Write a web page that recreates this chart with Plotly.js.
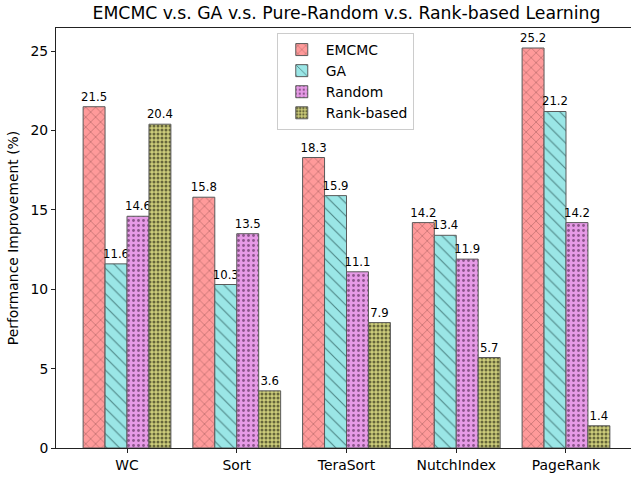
<!DOCTYPE html>
<html>
<head>
<meta charset="utf-8">
<script src="https://cdn.plot.ly/plotly-3.0.1.min.js"></script>
<style>
html,body{margin:0;padding:0;overflow:hidden;background:#fff;}
#chart{width:640px;height:477px;}
</style>
</head>
<body>
<div id="chart"></div>
<script>
const categories = ["WC", "Sort", "TeraSort", "NutchIndex", "PageRank"];
const emcmc = [21.5, 15.8, 18.3, 14.2, 25.2];
const ga = [11.6, 10.3, 15.9, 13.4, 21.2];
const random = [14.6, 13.5, 11.1, 11.9, 14.2];
const rankBased = [20.4, 3.6, 7.9, 5.7, 1.4];
const seriesNames = ["EMCMC", "GA", "Random", "Rank-based"];
const yTicks = [0, 5, 10, 15, 20, 25];

const styles = [
  {bg: "#ff9a9a", fg: "#a65f5f", shape: "x", size: 7, solidity: 0.15},
  {bg: "#9ae6e6", fg: "#4d8585", shape: "\\", size: 9, solidity: 0.12},
  {bg: "#e69ae6", fg: "#8a558a", shape: ".", size: 5, solidity: 0.25},
  {bg: "#cccc7a", fg: "#66663a", shape: ".", size: 4, solidity: 0.45}
];
const allValues = [emcmc, ga, random, rankBased];

const font = "DejaVu Sans";
const traces = allValues.map((vals, i) => ({
  type: "bar",
  name: seriesNames[i],
  x: categories,
  y: vals,
  text: vals.map(v => v.toFixed(1)),
  textposition: "outside",
  constraintext: "none",
  cliponaxis: false,
  textfont: {family: font, size: 11.7, color: "#000"},
  marker: {
    color: styles[i].bg,
    line: {color: "#5a5a5a", width: 1},
    pattern: {shape: styles[i].shape, bgcolor: styles[i].bg, fgcolor: styles[i].fg,
              size: styles[i].size, solidity: styles[i].solidity, fillmode: "replace"}
  }
}));

const layout = {
  width: 640, height: 477,
  margin: {l: 56, r: 3, t: 28, b: 29},
  paper_bgcolor: "#fff", plot_bgcolor: "#fff",
  font: {family: font, color: "#000"},
  barmode: "group", bargap: 0.2, bargroupgap: 0,
  title: {text: "EMCMC v.s. GA v.s. Pure-Random v.s. Rank-based Learning",
          font: {family: font, size: 17.3, color: "#000"},
          x: 0.5, xref: "paper", xanchor: "center", y: 0.972, yanchor: "middle"},
  xaxis: {
    type: "category", range: [-0.647, 4.647],
    showline: true, linecolor: "#222", linewidth: 1, mirror: true,
    ticks: "outside", ticklen: 4, tickcolor: "#222",
    tickfont: {family: font, size: 13.9, color: "#000"},
    showgrid: false, zeroline: false
  },
  yaxis: {
    range: [0, 26.46], tickvals: yTicks, ticktext: yTicks.map(String),
    showline: true, linecolor: "#222", linewidth: 1, mirror: true,
    ticks: "outside", ticklen: 4, tickcolor: "#222",
    tickfont: {family: font, size: 13.9, color: "#000"},
    showgrid: false, zeroline: false,
    title: {text: "Performance Improvement (%)", font: {family: font, size: 13.9, color: "#000"}, standoff: 8}
  },
  showlegend: true,
  legend: {
    x: 0.38, y: 0.988, xanchor: "left", yanchor: "top",
    bgcolor: "rgba(255,255,255,0.8)", bordercolor: "#cccccc", borderwidth: 1,
    font: {family: font, size: 13.9, color: "#000"},
    itemwidth: 38
  }
};

Plotly.newPlot("chart", traces, layout, {displayModeBar: false, staticPlot: true});
</script>
</body>
</html>
